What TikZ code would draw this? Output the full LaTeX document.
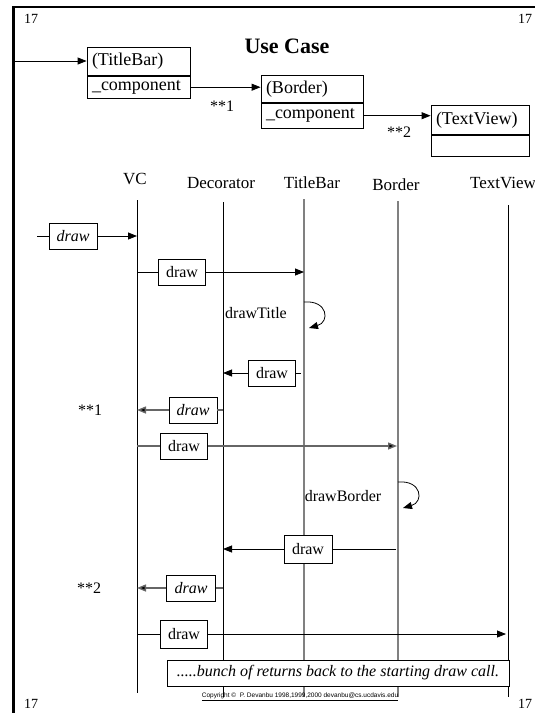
\documentclass[tikz,border=0pt]{standalone}
\usepackage{fontspec}
\setmainfont{Liberation Serif}
\newfontfamily\copyfont{Liberation Sans}
\usetikzlibrary{positioning,arrows.meta,calc}

\tikzset{
  objpart/.style={draw, line width=0.8pt, inner xsep=5pt, inner ysep=0pt, align=left,
    font=\fontsize{18}{20}\selectfont, anchor=north},
  callbox/.style={draw, line width=0.8pt, minimum width=47pt, minimum height=26pt,
    inner sep=0pt, fill=white, font=\fontsize{16}{18}\selectfont},
  retbox/.style={callbox, font=\fontsize{16}{18}\selectfont\itshape},
  lifelbl/.style={font=\fontsize{17}{19}\selectfont},
  selflbl/.style={font=\fontsize{16}{18}\selectfont},
  lifeblack/.style={line width=0.8pt},
  lifegray/.style={draw=gray, line width=1.8pt},
  msg/.style={line width=0.8pt},
  msggray/.style={draw=black!60, line width=1.4pt},
  tip/.style={-{Triangle[length=9pt,width=7pt,fill=black]}},
  pagenum/.style={font=\fontsize{14}{16}\selectfont},
}

\begin{document}
\begin{tikzpicture}[x=1pt,y=-1pt]
    \useasboundingbox (0,0) rectangle (535,713);
    %\draw[help lines] (0,0) grid[step=50] (535,713);
    \draw[line width=3pt] (13,6) -- (13,713);
    \draw[line width=2pt] (12,7) -- (535,7);
    \node[pagenum] (pnTL) at (31,19) {17};
    \node[pagenum] (pnTR) at (525,19) {17};
    \node[pagenum] (pnBL) at (31,704) {17};
    \node[pagenum] (pnBR) at (525,704) {17};
    \node[font=\fontsize{22}{24}\selectfont\bfseries] (title) at (287,46) {Use Case};

    % object chain
    \node[objpart, text width=93pt, minimum height=28pt] (tbName) at (138.5,47) {(TitleBar)};
    \node[objpart, text width=93pt, minimum height=22pt, below=0pt of tbName] (tbField) {\_component};
    \node[objpart, text width=92pt, minimum height=27pt] (bdName) at (312,75) {(Border)};
    \node[objpart, text width=92pt, minimum height=25pt, below=0pt of bdName] (bdField) {\_component};
    \node[objpart, text width=88pt, minimum height=29pt] (tvName) at (480,105) {(TextView)};
    \node[objpart, text width=88pt, minimum height=21pt, below=0pt of tvName] (tvField) {};
    \coordinate (inTB) at (13,61);
    \draw[msg,tip] (inTB) -- (inTB -| tbName.west);
    \draw[msg,tip] (tbField.east) -- (tbField.east -| bdName.west);
    \draw[msg,tip] (bdField.east) -- (bdField.east -| tvName.west);
    \node[selflbl] (ref1) at (222,106) {**1};
    \node[selflbl] (ref2) at (399,132) {**2};

    % lifelines
    \node[lifelbl] (vc) at (135,179) {VC};
    \node[lifelbl] (dec) at (221,183) {Decorator};
    \node[lifelbl] (tb) at (312,183) {TitleBar};
    \node[lifelbl] (bd) at (396,185) {Border};
    \node[lifelbl] (tv) at (503,183) {TextView};
    \coordinate (vcT) at (137,200);  \coordinate (vcB) at (137,693);
    \coordinate (decT) at (223,202); \coordinate (decB) at (223,697);
    \coordinate (tbT) at (304,199);  \coordinate (tbB) at (304,697);
    \coordinate (bdT) at (398,201);  \coordinate (bdB) at (398,697);
    \coordinate (tvT) at (508,205);  \coordinate (tvB) at (508,697);
    \draw[lifeblack] (vcT) -- (vcB);
    \draw[lifeblack] (decT) -- (decB);
    \draw[lifegray] (tbT) -- (tbB);
    \draw[lifegray] (bdT) -- (bdB);
    \draw[lifeblack] (tvT) -- (tvB);

    % messages
    \coordinate (start) at (37,236);
    \node[retbox, minimum width=48pt] (m1) at (73,236) {draw};
    \draw[msg] (start) -- (m1.west);
    \draw[msg,tip] (m1.east) -- (m1 -| vcT);

    \node[callbox] (m2) at (182,272) {draw};
    \draw[msg] (m2 -| vcT) -- (m2.west);
    \draw[msg,tip] (m2.east) -- (m2 -| tbT);

    \node[selflbl] (m3) at (256,313) {drawTitle};
    \coordinate (tt1) at (304,302);
    \coordinate (tt2) at (309,328);
    \draw[msg,tip] (tt1) .. controls (328,300) and (330,322) .. (tt2);

    \node[callbox] (m4) at (272,373) {draw};
    \draw[msg] ($(m4 -| tbT)+(-3,0)$) -- (m4.east);
    \draw[msg,tip] (m4.west) -- (m4 -| decT);

    \node[selflbl] (ref1b) at (90,410) {**1};
    \node[retbox, minimum width=48pt] (m5) at (193,410) {draw};
    \draw[msggray] (m5 -| decT) -- (m5.east);
    \draw[msggray,tip] (m5.west) -- (m5 -| vcT);

    \node[callbox] (m6) at (184,446) {draw};
    \draw[msggray] (m6 -| vcT) -- (m6.west);
    \draw[msggray,tip] (m6.east) -- ($(m6 -| bdT)+(-1,0)$);

    \node[selflbl] (m7) at (343,496) {drawBorder};
    \coordinate (bb1) at (398,482);
    \coordinate (bb2) at (403,508);
    \draw[msg,tip] (bb1) .. controls (422,480) and (424,502) .. (bb2);

    \node[callbox, minimum width=48pt, minimum height=28pt] (m8) at (308,549) {draw};
    \draw[msg] ($(m8 -| bdT)+(-2,0)$) -- (m8.east);
    \draw[msg,tip] (m8.west) -- (m8 -| decT);

    \node[selflbl] (ref2b) at (89,588) {**2};
    \node[retbox, minimum width=49pt] (m9) at (191,588) {draw};
    \draw[msggray] (m9 -| decT) -- (m9.east);
    \draw[msggray,tip] (m9.west) -- (m9 -| vcT);

    \node[callbox, minimum height=28pt] (m10) at (184,634) {draw};
    \draw[msg] (m10 -| vcT) -- (m10.west);
    \draw[msg,tip] (m10.east) -- ($(m10 -| tvT)+(-2,0)$);

    \node[retbox, minimum width=342pt] (bunch) at (338,673) {.....bunch of returns back to the starting draw call.};
    \node[font=\copyfont\fontsize{6.5}{7}\selectfont] (copy) at (300,697) {\underline{Copyright © \ P. Devanbu 1998,1999,2000 devanbu@cs.ucdavis.edu}};
\end{tikzpicture}
\end{document}
